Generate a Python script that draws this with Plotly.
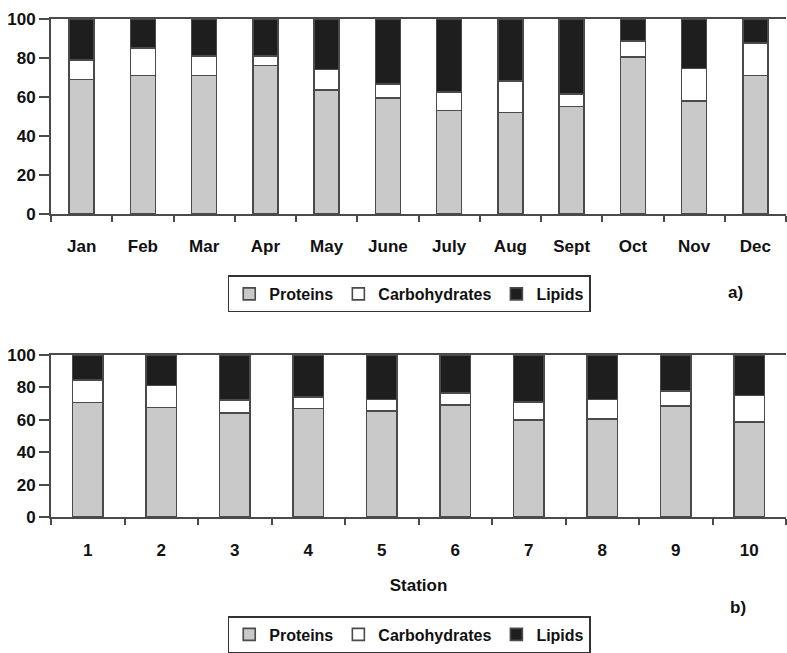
import plotly.graph_objects as go

months = ["Jan", "Feb", "Mar", "Apr", "May", "June", "July", "Aug", "Sept", "Oct", "Nov", "Dec"]
month_proteins = [69, 71, 71, 76, 63.5, 59.5, 53, 52, 55, 80.5, 58, 71]
month_carbs = [10, 14, 10, 5, 10.5, 7, 9.5, 16, 6.5, 8, 16.5, 16.5]
month_lipids = [21, 15, 19, 19, 26, 33.5, 37.5, 32, 38.5, 11.5, 25.5, 12.5]

stations = ["1", "2", "3", "4", "5", "6", "7", "8", "9", "10"]
station_proteins = [70.5, 67.5, 64, 67, 65.5, 69, 60, 60.5, 68.5, 58.5]
station_carbs = [14, 13.5, 8, 7, 7, 7.5, 11, 12, 9, 16.5]
station_lipids = [15.5, 19, 28, 26, 27.5, 23.5, 29, 27.5, 22.5, 25]

y_ticks = [0, 20, 40, 60, 80, 100]

W, H = 787, 653
FONT = "Liberation Sans"
LINE = "#4a4a4a"
FS = 17

styles = [
    ("Proteins", "#c9c9c9"),
    ("Carbohydrates", "#ffffff"),
    ("Lipids", "#1e1e1e"),
]

fig = go.Figure()

top_series = [month_proteins, month_carbs, month_lipids]
bot_series = [station_proteins, station_carbs, station_lipids]

for (name, color), vals in zip(styles, top_series):
    fig.add_trace(go.Bar(
        x=months, y=vals, name=name, xaxis="x", yaxis="y",
        marker=dict(color=color, line=dict(color=LINE, width=1.6)),
        legend="legend",
    ))
for (name, color), vals in zip(styles, bot_series):
    fig.add_trace(go.Bar(
        x=stations, y=vals, name=name, xaxis="x2", yaxis="y2",
        marker=dict(color=color, line=dict(color=LINE, width=1.6)),
        legend="legend2",
    ))

xdom = [51 / W, 786 / W]
ax_common = dict(
    showline=True, linecolor=LINE, linewidth=2, showgrid=False, zeroline=False,
    automargin=False,
    tickfont=dict(family=FONT, size=FS, color="#111111", weight="bold"),
)
xcommon = dict(ax_common, ticks="outside", tickson="boundaries", ticklen=6,
               tickcolor=LINE, tickwidth=1.5, mirror=True, ticklabelstandoff=16)
ycommon = dict(ax_common, ticks="outside", ticklen=10, tickcolor=LINE, tickwidth=1.5,
               range=[0, 100], tickvals=y_ticks, ticklabelstandoff=0)

legend_common = dict(
    orientation="h", x=0.52, xanchor="center", yanchor="top",
    bordercolor="#333333", borderwidth=1.5, itemwidth=30,
    font=dict(family=FONT, size=16, weight="bold", color="#111111"),
    traceorder="normal",
)

fig.update_layout(
    width=W, height=H,
    margin=dict(l=0, r=0, t=0, b=0),
    paper_bgcolor="white", plot_bgcolor="white",
    barmode="stack", bargap=0.59,
    font=dict(family=FONT, color="#111111"),
    xaxis=dict(xcommon, domain=xdom, anchor="y"),
    yaxis=dict(ycommon, domain=[1 - 216 / H, 1 - 19 / H], anchor="x"),
    xaxis2=dict(xcommon, domain=xdom, anchor="y2",
                title=dict(text="Station", font=dict(family=FONT, size=FS, weight="bold"), standoff=20)),
    yaxis2=dict(ycommon, domain=[1 - 522 / H, 1 - 358 / H], anchor="x2"),
    legend=dict(legend_common, y=1 - 278 / H),
    legend2=dict(legend_common, y=1 - 622 / H),
    annotations=[
        dict(text="a)", x=745 / W, y=1 - 295 / H, xref="paper", yref="paper",
             showarrow=False, font=dict(family=FONT, size=FS, weight="bold")),
        dict(text="b)", x=748 / W, y=1 - 625 / H, xref="paper", yref="paper",
             showarrow=False, font=dict(family=FONT, size=FS, weight="bold")),
    ],
)

fig.write_html("out.html", post_script="document.body.style.margin='0';",
               config={"displayModeBar": False})
